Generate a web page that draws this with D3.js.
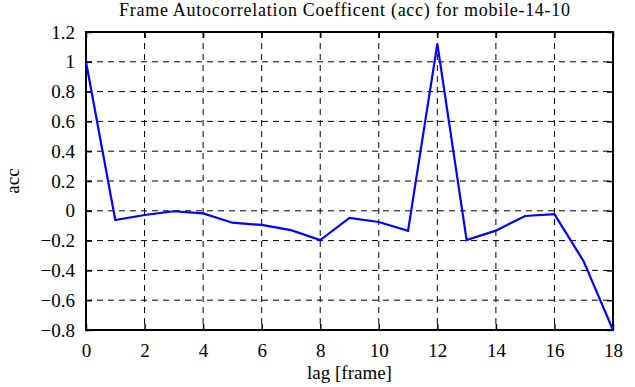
<!DOCTYPE html>
<html>
<head>
<meta charset="utf-8">
<script src="https://cdn.jsdelivr.net/npm/d3@7"></script>
<style>
  body { margin: 0; background: #fff; }
  svg text { font-family: "Times New Roman", "Liberation Serif", Times, serif; fill: #000; }
</style>
</head>
<body>
<div id="chart"></div>
<script>
// lag values and autocorrelation
const lags = [0, 1, 2, 3, 4, 5, 6, 7, 8, 9, 10, 11, 12, 13, 14, 15, 16, 17, 18];
const acc = [1.0, -0.062, -0.028, -0.003, -0.017, -0.08, -0.095, -0.13, -0.196, -0.048,
             -0.075, -0.135, 1.12, -0.196, -0.133, -0.035, -0.022, -0.34, -0.8];
const xTicks = [0, 2, 4, 6, 8, 10, 12, 14, 16, 18];
const yTicks = [-0.8, -0.6, -0.4, -0.2, 0, 0.2, 0.4, 0.6, 0.8, 1, 1.2];

const width = 635, height = 387;
const margin = { left: 86, right: 22, top: 32, bottom: 57 };
const serif = '"Times New Roman", "Liberation Serif", Times, serif';

const svg = d3.select('#chart').append('svg')
    .attr('width', width)
    .attr('height', height)
    .style('font-family', serif);

const x = d3.scaleLinear().domain([0, 18]).range([margin.left, width - margin.right]);
const y = d3.scaleLinear().domain([-0.8, 1.2]).range([height - margin.bottom, margin.top]);

// grid
svg.append('g').selectAll('line')
    .data(xTicks.slice(1, -1))
    .enter().append('line')
    .attr('x1', d => x(d)).attr('x2', d => x(d))
    .attr('y1', y(1.2)).attr('y2', y(-0.8))
    .attr('stroke', '#000').attr('stroke-dasharray', '6,5');
svg.append('g').selectAll('line')
    .data(yTicks.slice(1, -1))
    .enter().append('line')
    .attr('y1', d => y(d)).attr('y2', d => y(d))
    .attr('x1', x(0)).attr('x2', x(18))
    .attr('stroke', '#000').attr('stroke-dasharray', '6,5');

// axes, ticks pointing inward
const fmt = d => d === 0 ? '0' : d3.format('')(d);
svg.append('g')
    .attr('transform', `translate(0,${y(-0.8)})`)
    .call(d3.axisBottom(x).tickValues(xTicks).tickSize(-6).tickPadding(14).tickFormat(fmt))
    .call(g => g.select('.domain').remove())
    .call(g => g.attr('font-family', serif).selectAll('text').attr('font-size', 19));
svg.append('g')
    .attr('transform', `translate(0,${y(1.2)})`)
    .call(d3.axisTop(x).tickValues(xTicks).tickSize(-6).tickFormat(''))
    .call(g => g.select('.domain').remove());
svg.append('g')
    .attr('transform', `translate(${x(0)},0)`)
    .call(d3.axisLeft(y).tickValues(yTicks).tickSize(-6).tickPadding(11).tickFormat(fmt))
    .call(g => g.select('.domain').remove())
    .call(g => g.attr('font-family', serif).selectAll('text').attr('font-size', 19));
svg.append('g')
    .attr('transform', `translate(${x(18)},0)`)
    .call(d3.axisRight(y).tickValues(yTicks).tickSize(-6).tickFormat(''))
    .call(g => g.select('.domain').remove());

svg.selectAll('.tick line').attr('stroke', '#000').attr('stroke-width', 1.5);

// frame
svg.append('rect')
    .attr('x', x(0)).attr('y', y(1.2))
    .attr('width', x(18) - x(0)).attr('height', y(-0.8) - y(1.2))
    .attr('fill', 'none').attr('stroke', '#000').attr('stroke-width', 2);

// data line
const line = d3.line().x((d, i) => x(lags[i])).y(d => y(d));
svg.append('path')
    .datum(acc)
    .attr('d', line)
    .attr('fill', 'none')
    .attr('stroke', '#0000ff')
    .attr('stroke-width', 2.2);

// labels
svg.append('text')
    .attr('x', 119).attr('y', 16)
    .attr('font-size', 18)
    .attr('textLength', 451).attr('lengthAdjust', 'spacing')
    .text('Frame Autocorrelation Coefficent (acc) for mobile-14-10');
svg.append('text')
    .attr('x', (x(0) + x(18)) / 2).attr('y', 379)
    .attr('text-anchor', 'middle').attr('font-size', 19)
    .text('lag [frame]');
svg.append('text')
    .attr('transform', `translate(19,${(y(1.2) + y(-0.8)) / 2}) rotate(-90)`)
    .attr('text-anchor', 'middle').attr('font-size', 19)
    .text('acc');
</script>
</body>
</html>
